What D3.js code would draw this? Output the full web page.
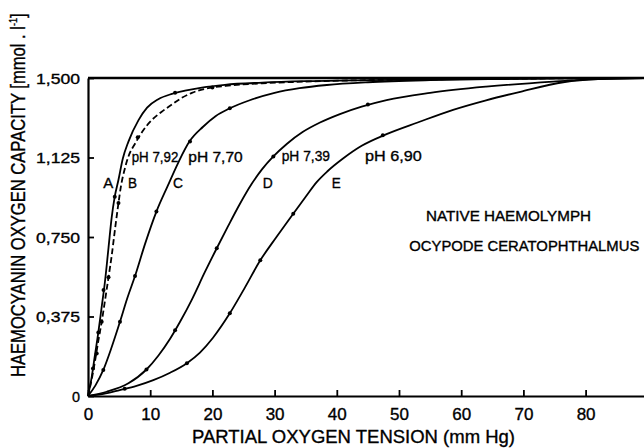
<!DOCTYPE html>
<html><head><meta charset="utf-8">
<script src="https://cdn.jsdelivr.net/npm/d3@7"></script>
<style>
html,body{margin:0;padding:0;background:#fff;}
text{font-family:"Liberation Sans",Arial,sans-serif;fill:#000;stroke:#000;stroke-width:0.35px;}
</style></head>
<body>
<script>
// ---- data ----
const xTicks = [0,10,20,30,40,50,60,70,80];
const yTicks = [0,0.375,0.75,1.125,1.5];
const yTickLabels = ["0","0,375","0,750","1,125","1,500"];

const curveA = [[0,0],[0.6,0.09],[1.1,0.19],[1.66,0.3],[2.2,0.42],[2.73,0.54],[3.3,0.7],[3.8,0.84],[4.3,0.94],[4.9,1.02],[5.6,1.12],[6.5,1.2],[8.1,1.3],[9.5,1.36],[11.3,1.4],[13.5,1.425],[15.6,1.44],[18.3,1.455],[22,1.468],[28,1.478],[35,1.485],[45,1.49],[60,1.495],[75,1.498],[90,1.5]];
const curveB = [[0,0],[0.6,0.08],[1.1,0.16],[1.66,0.26],[2.2,0.35],[2.73,0.45],[3.3,0.56],[3.8,0.66],[4.4,0.8],[4.9,0.91],[5.3,0.99],[5.9,1.07],[6.5,1.13],[7.56,1.19],[8.8,1.25],[10.2,1.3],[11.8,1.34],[13.5,1.375],[15,1.405],[16.7,1.43],[19,1.45],[23,1.465],[28,1.475],[35,1.483],[45,1.49],[60,1.495],[75,1.498],[90,1.5]];
const curveC = [[0,0],[1.2,0.05],[2.46,0.123],[3.8,0.23],[5.14,0.35],[6.3,0.46],[7.56,0.566],[9.2,0.72],[11,0.87],[12.8,0.99],[14.5,1.1],[16.3,1.2],[18.5,1.27],[20.5,1.32],[22.8,1.357],[26,1.395],[30,1.43],[34,1.452],[38.4,1.467],[45,1.48],[55,1.49],[65,1.495],[80,1.5],[90,1.5]];
const curveD = [[0,0],[3,0.02],[6.5,0.06],[9.4,0.125],[11.3,0.19],[13.2,0.27],[14.8,0.35],[16.7,0.455],[18.8,0.585],[20.7,0.697],[22.5,0.8],[24.3,0.9],[26.3,1.0],[28,1.07],[29.8,1.13],[32,1.19],[34.5,1.245],[37.3,1.29],[40.5,1.33],[44,1.365],[48,1.396],[55,1.43],[64,1.459],[74.8,1.483],[82,1.495],[90,1.5]];
const curveE = [[0,0],[2.5,0.01],[5.1,0.028],[7.8,0.048],[10.5,0.075],[13.2,0.11],[15.9,0.155],[18,0.205],[20.1,0.275],[22.8,0.39],[25.2,0.51],[27.7,0.64],[30.3,0.75],[33,0.86],[35,0.94],[36.8,1.01],[38.5,1.06],[41,1.12],[44,1.18],[48,1.235],[53,1.29],[58.7,1.35],[64,1.395],[69.5,1.435],[76.4,1.48],[82,1.495],[90,1.5]];

const markA = [[0.8,0.13],[1.66,0.3],[2.5,0.5],[4.3,0.94],[14,1.43]];
const markB = [[1.4,0.2],[2.2,0.35],[3.3,0.56],[4.9,0.91],[8,1.22],[20,1.455]];
const markC = [[2.46,0.123],[5.14,0.35],[7.56,0.566],[11,0.87],[16.4,1.2],[22.8,1.357]];
const markD = [[9.4,0.125],[14,0.31],[20.7,0.697],[29.8,1.13],[45,1.375]];
const markE = [[5.9,0.034],[15.9,0.155],[22.8,0.39],[27.7,0.64],[33,0.86],[47.4,1.23]];

const curveLabels = [
  {t:"pH 7,92",x:131.7,y:162,w:46.6},{t:"pH 7,70",x:188.3,y:162,w:54.4},
  {t:"pH 7,39",x:281.7,y:161,w:48.3},{t:"pH 6,90",x:365,y:161,w:56.7},
  {t:"A",x:103.3,y:188,w:10},{t:"B",x:128,y:188,w:9},{t:"C",x:173,y:188,w:10},
  {t:"D",x:262.7,y:188,w:10},{t:"E",x:331.7,y:188,w:9}
];

// ---- chart ----
const W=644,H=448;
const svg=d3.select("body").append("svg").attr("width",W).attr("height",H);
const x=d3.scaleLinear().domain([0,90]).range([88,88+90*6.22]);
const y=d3.scaleLinear().domain([0,1.5]).range([396,78]);

const line=d3.line().x(d=>x(d[0])).y(d=>y(d[1])).curve(d3.curveMonotoneX);
const series=[[curveA,false],[curveB,true],[curveC,false],[curveD,false],[curveE,false]];
series.forEach(([d,dash])=>{
  svg.append("path").datum(d).attr("d",line).attr("fill","none")
    .attr("stroke","#000").attr("stroke-width",1.8)
    .attr("stroke-dasharray",dash?"6,3":null);
});
[markA,markB,markC,markD,markE].forEach(m=>{
  svg.selectAll(null).data(m).enter().append("circle")
    .attr("cx",d=>x(d[0])).attr("cy",d=>y(d[1])).attr("r",2).attr("fill","#000");
});

// axes
const xa=svg.append("g").attr("transform","translate(0,396)")
  .call(d3.axisBottom(x).tickValues(xTicks).tickSizeInner(-6).tickSizeOuter(0).tickPadding(12));
xa.select(".domain").attr("stroke-width",2.2);
xa.selectAll(".tick line").attr("stroke-width",1.8);
xa.selectAll("text").attr("font-size",17).attr("font-family","Liberation Sans, Arial, sans-serif");

const ya=svg.append("g").attr("transform","translate(88,0)")
  .call(d3.axisLeft(y).tickValues(yTicks).tickFormat((d,i)=>yTickLabels[i]).tickSizeInner(-6).tickSizeOuter(0).tickPadding(8));
ya.select(".domain").attr("stroke-width",2.2);
ya.selectAll(".tick line").attr("stroke-width",1.8);
ya.selectAll("text").attr("font-size",15).attr("font-family","Liberation Sans, Arial, sans-serif")
  .attr("dy","0.36em")
  .each(function(d,i){ const t=yTickLabels[i]; const w = t==="0"?8:(t.length===5?44:33);
     d3.select(this).attr("textLength",w).attr("lengthAdjust","spacingAndGlyphs");});
// top border
svg.append("line").attr("x1",x(0)).attr("x2",W).attr("y1",y(1.5)).attr("y2",y(1.5))
  .attr("stroke","#000").attr("stroke-width",2.6);

// labels
svg.selectAll(null).data(curveLabels).enter().append("text")
  .attr("x",d=>d.x).attr("y",d=>d.y).attr("font-size",15)
  .attr("textLength",d=>d.w).attr("lengthAdjust","spacingAndGlyphs").text(d=>d.t);

svg.append("text").attr("x",426).attr("y",221).attr("font-size",14)
  .attr("textLength",165).attr("lengthAdjust","spacingAndGlyphs").text("NATIVE  HAEMOLYMPH");
svg.append("text").attr("x",409.3).attr("y",251).attr("font-size",14)
  .attr("textLength",230).attr("lengthAdjust","spacingAndGlyphs").text("OCYPODE  CERATOPHTHALMUS");

svg.append("text").attr("x",192).attr("y",443).attr("font-size",19)
  .attr("textLength",323).attr("lengthAdjust","spacingAndGlyphs").text("PARTIAL  OXYGEN  TENSION  (mm Hg)");

// y title: measured then scaled horizontally to fit 364px
const ytg=svg.append("g");
const yt=ytg.append("text").attr("font-size",20);
yt.append("tspan").text("HAEMOCYANIN OXYGEN CAPACITY [mmol . l");
yt.append("tspan").attr("dy",-8).attr("font-size",11).text("-1");
yt.append("tspan").attr("dy",8).text("]");
const natW=yt.node().getComputedTextLength();
const sc=364/natW;
ytg.attr("transform",`translate(25,377) rotate(-90) scale(${sc},1)`);
</script>
</body></html>
